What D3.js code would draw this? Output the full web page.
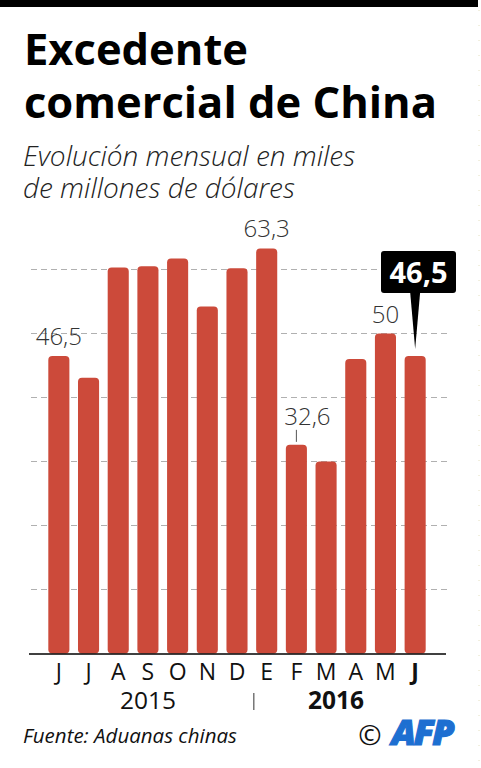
<!DOCTYPE html>
<html>
<head>
<meta charset="utf-8">
<script src="https://cdn.jsdelivr.net/npm/d3@7"></script>
<style>
  html, body { margin: 0; padding: 0; background: #fff; }
  text { font-family: "Open Sans", Lato, sans-serif; }
</style>
</head>
<body>
<div id="viz"></div>
<script>
// months (jun 2015 - jun 2016) and trade surplus, billions USD
const months = ["J", "J", "A", "S", "O", "N", "D", "E", "F", "M", "A", "M", "J"];
const values = [46.5, 43.1, 60.3, 60.5, 61.7, 54.2, 60.2, 63.3, 32.6, 30.0, 46.0, 50.0, 46.5];
const labelled = { 0: "46,5", 7: "63,3", 8: "32,6", 11: "50" };
const gridTicks = [10, 20, 30, 40, 50, 60];
const years = [{ label: "2015", from: 0, to: 6, bold: false, dx: 0 }, { label: "2016", from: 7, to: 12, bold: true, dx: -5 }];

const W = 481, H = 768;
const CHART = { left: 44, right: 430, top: 200, bottom: 653.5 };

const svg = d3.select("#viz").append("svg")
    .attr("width", W)
    .attr("height", H);

// black strip on top
svg.append("rect").attr("x", 0).attr("y", 0).attr("width", 478).attr("height", 7).attr("fill", "#000");

// dotted right edge
svg.append("line")
    .attr("x1", 479).attr("x2", 479).attr("y1", 10).attr("y2", H)
    .attr("stroke", "#e4e0c0").attr("stroke-width", 1).attr("stroke-dasharray", "1,14");

// title
svg.append("text").text("Excedente").attr("x", 24).attr("y", 65)
    .attr("font-size", 43.5).attr("font-weight", 700).attr("fill", "#000");
svg.append("text").text("comercial de China").attr("x", 24).attr("y", 118)
    .attr("font-size", 43.5).attr("font-weight", 700).attr("fill", "#000");

svg.append("text").text("Evolución mensual en miles").attr("x", 23).attr("y", 166)
    .attr("font-size", 28).attr("font-style", "italic").attr("font-weight", 300).attr("fill", "#222");
svg.append("text").text("de millones de dólares").attr("x", 23).attr("y", 198)
    .attr("font-size", 28).attr("font-style", "italic").attr("font-weight", 300).attr("fill", "#222");

const x = d3.scaleBand()
    .domain(d3.range(months.length))
    .range([CHART.left, CHART.right])
    .paddingInner(0.29)
    .paddingOuter(0.145);

const y = d3.scaleLinear()
    .domain([0, 10])
    .range([CHART.bottom, CHART.bottom - 64]);

// gridlines
svg.append("g").selectAll("line").data(gridTicks).join("line")
    .attr("x1", 31).attr("x2", 447)
    .attr("y1", d => y(d)).attr("y2", d => y(d))
    .attr("stroke", "#b0b0b0").attr("stroke-width", 1).attr("stroke-dasharray", "6,4");

// bars
svg.append("g").selectAll("rect").data(values).join("rect")
    .attr("x", (d, i) => x(i))
    .attr("width", x.bandwidth())
    .attr("y", d => y(d))
    .attr("height", d => y(0) - y(d))
    .attr("rx", 4).attr("ry", 4)
    .attr("fill", "#cc4a3a");

// baseline
svg.append("line").attr("x1", 29).attr("x2", 446)
    .attr("y1", y(0) + 0.5).attr("y2", y(0) + 0.5)
    .attr("stroke", "#000").attr("stroke-width", 1.5);

// value labels
const cx = i => x(i) + x.bandwidth() / 2;
Object.keys(labelled).forEach(k => {
    const i = +k;
    const lift = i === 8 ? 20 : 11;
    const shift = i === 8 ? 11 : 0;
    svg.append("text").text(labelled[k])
        .attr("x", cx(i) + shift).attr("y", y(values[i]) - lift)
        .attr("text-anchor", "middle")
        .attr("font-size", 24).attr("font-weight", 300).attr("fill", "#333");
    if (i === 8) {
        svg.append("line").attr("x1", cx(i)).attr("x2", cx(i))
            .attr("y1", y(values[i]) - 15).attr("y2", y(values[i]) - 3)
            .attr("stroke", "#555").attr("stroke-width", 1);
    }
});

// callout for the last month
const last = values.length - 1;
const tipY = y(values[last]) - 7;
const box = { x: 381, y: 251, w: 75, h: 42 };
svg.append("rect").attr("x", box.x).attr("y", box.y).attr("width", box.w).attr("height", box.h)
    .attr("rx", 3).attr("fill", "#000");
svg.append("path")
    .attr("d", `M${cx(last) - 5},${box.y + box.h - 1} L${cx(last) + 5},${box.y + box.h - 1} L${cx(last)},${tipY} Z`)
    .attr("fill", "#000");
svg.append("text").text("46,5")
    .attr("x", box.x + box.w / 2).attr("y", box.y + 32)
    .attr("text-anchor", "middle")
    .attr("font-size", 29).attr("font-weight", 700).attr("fill", "#fff");

// month axis
svg.append("g").selectAll("text").data(months).join("text")
    .text(d => d)
    .attr("x", (d, i) => cx(i)).attr("y", 680)
    .attr("text-anchor", "middle")
    .attr("font-size", 23)
    .attr("font-weight", (d, i) => i === last ? 700 : 400)
    .attr("fill", "#111");

// years
years.forEach(yr => {
    svg.append("text").text(yr.label)
        .attr("x", (cx(yr.from) + cx(yr.to)) / 2 + yr.dx).attr("y", 709)
        .attr("text-anchor", "middle")
        .attr("font-size", 24.5).attr("font-weight", yr.bold ? 700 : 400).attr("fill", "#111");
});
const sepX = (cx(6) + cx(7)) / 2 + 2;
svg.append("line").attr("x1", sepX).attr("x2", sepX).attr("y1", 693).attr("y2", 710)
    .attr("stroke", "#333").attr("stroke-width", 1);

// footer
svg.append("text").text("Fuente: Aduanas chinas").attr("x", 23).attr("y", 743)
    .attr("font-size", 20.5).attr("font-style", "italic").attr("fill", "#111");
svg.append("text").text("©").attr("x", 370).attr("y", 745)
    .attr("text-anchor", "middle").attr("font-size", 28).attr("fill", "#111");
svg.append("text").text("AFP").attr("x", 422).attr("y", 745)
    .attr("text-anchor", "middle").attr("font-size", 36).attr("font-weight", 800)
    .attr("font-style", "italic").attr("fill", "#1d6fd1")
    .attr("stroke", "#1d6fd1").attr("stroke-width", 1.2).attr("letter-spacing", -2);
</script>
</body>
</html>
